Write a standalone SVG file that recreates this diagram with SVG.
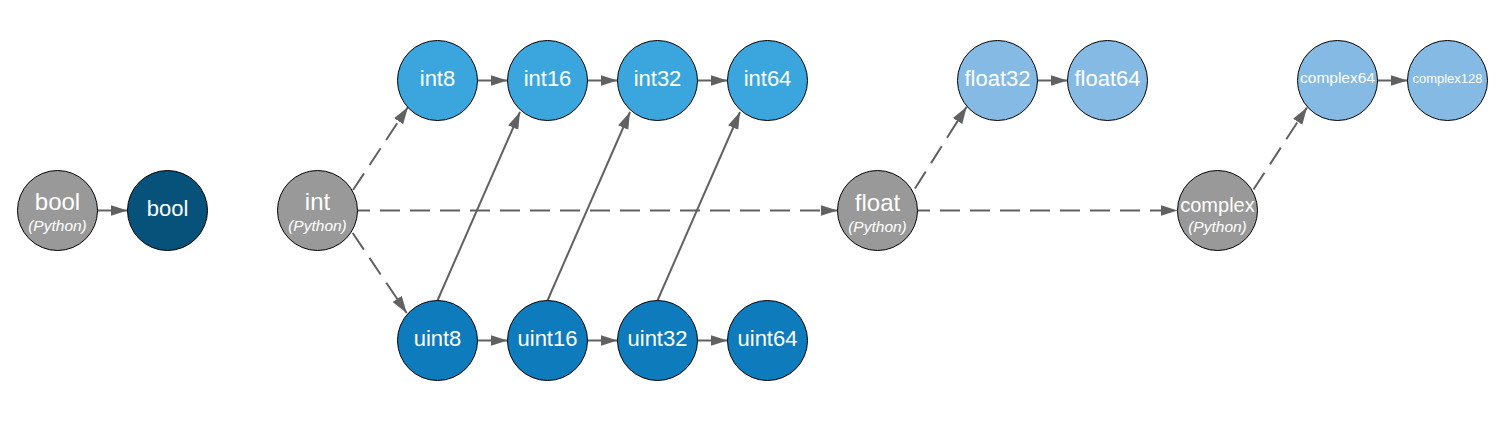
<svg xmlns="http://www.w3.org/2000/svg" width="1503" height="421" viewBox="0 0 1503 421">
<style>
.n{stroke:#000;stroke-width:1}
.py{fill:#999999}
.db{fill:#07527b}
.ib{fill:#3aa6dd}
.ub{fill:#0e7bbc}
.fb{fill:#84bae3}
text{font-family:"Liberation Sans",Arial,sans-serif;fill:#fff;text-anchor:middle}
.lbl{font-size:22px}
.big{font-size:24px}
.pyt{font-size:15.5px;font-style:italic}
.c{fill:none;stroke:#616161;stroke-width:2;marker-end:url(#ah)}
.d{stroke-dasharray:20 10}
</style>
<defs>
<marker id="ah" markerUnits="userSpaceOnUse" markerWidth="18" markerHeight="12" refX="17" refY="6" orient="auto">
<path d="M0,0.5 L17,6 L0,11.5 z" fill="#616161"/>
</marker>
</defs>
<g id="connectors">
<line class="c" x1="97.5" y1="210.5" x2="127.5" y2="210.5"/>
<line class="c" x1="477.5" y1="80.5" x2="507.5" y2="80.5"/>
<line class="c" x1="587.5" y1="80.5" x2="617.5" y2="80.5"/>
<line class="c" x1="697.5" y1="80.5" x2="727.5" y2="80.5"/>
<line class="c" x1="477.5" y1="340.5" x2="507.5" y2="340.5"/>
<line class="c" x1="587.5" y1="340.5" x2="617.5" y2="340.5"/>
<line class="c" x1="697.5" y1="340.5" x2="727.5" y2="340.5"/>
<line class="c" x1="1037.5" y1="80.5" x2="1067.5" y2="80.5"/>
<line class="c" x1="1377.5" y1="80.5" x2="1407.5" y2="80.5"/>
<line class="c" x1="437.5" y1="300.5" x2="520" y2="112"/>
<line class="c" x1="547.5" y1="300.5" x2="630" y2="112"/>
<line class="c" x1="657.5" y1="300.5" x2="740" y2="112"/>
<line class="c d" x1="353" y1="190" x2="408" y2="107"/>
<line class="c d" x1="352.7" y1="233" x2="406.7" y2="313"/>
<line class="c d" x1="358" y1="210.5" x2="837.5" y2="210.5" stroke-dashoffset="8"/>
<line class="c d" x1="918" y1="210.5" x2="1177.5" y2="210.5" stroke-dashoffset="8"/>
<line class="c d" x1="915" y1="188.5" x2="966.7" y2="106.7"/>
<line class="c d" x1="1253.5" y1="189.5" x2="1307" y2="107.5"/>
</g>
<g id="bool-py"><circle class="n py" cx="57.5" cy="210.5" r="40"/><text class="big" x="57.5" y="210">bool</text><text class="pyt" x="57.5" y="231">(Python)</text></g>
<g id="bool"><circle class="n db" cx="167.5" cy="210.5" r="40"/><text x="167.5" y="215.5" font-size="22">bool</text></g>
<g id="int-py"><circle class="n py" cx="317.5" cy="210.5" r="40"/><text class="big" x="317.5" y="209.5">int</text><text class="pyt" x="317.5" y="231">(Python)</text></g>
<g id="int8"><circle class="n ib" cx="437.5" cy="80.5" r="40"/><text class="lbl" x="437.5" y="85.5">int8</text></g>
<g id="int16"><circle class="n ib" cx="547.5" cy="80.5" r="40"/><text class="lbl" x="547.5" y="85.5">int16</text></g>
<g id="int32"><circle class="n ib" cx="657.5" cy="80.5" r="40"/><text class="lbl" x="657.5" y="85.5">int32</text></g>
<g id="int64"><circle class="n ib" cx="767.5" cy="80.5" r="40"/><text class="lbl" x="767.5" y="85.5">int64</text></g>
<g id="uint8"><circle class="n ub" cx="437.5" cy="340.5" r="40"/><text class="lbl" x="437.5" y="346">uint8</text></g>
<g id="uint16"><circle class="n ub" cx="547.5" cy="340.5" r="40"/><text class="lbl" x="547.5" y="346">uint16</text></g>
<g id="uint32"><circle class="n ub" cx="657.5" cy="340.5" r="40"/><text class="lbl" x="657.5" y="346">uint32</text></g>
<g id="uint64"><circle class="n ub" cx="767.5" cy="340.5" r="40"/><text class="lbl" x="767.5" y="346">uint64</text></g>
<g id="float-py"><circle class="n py" cx="877.5" cy="210.5" r="40"/><text class="big" x="877.5" y="210.5">float</text><text class="pyt" x="877.5" y="232">(Python)</text></g>
<g id="float32"><circle class="n fb" cx="997.5" cy="80.5" r="40"/><text class="lbl" x="997.5" y="85.5">float32</text></g>
<g id="float64"><circle class="n fb" cx="1107.5" cy="80.5" r="40"/><text class="lbl" x="1107.5" y="85.5">float64</text></g>
<g id="complex-py"><circle class="n py" cx="1217.5" cy="210.5" r="40"/><text x="1217.5" y="211.5" font-size="20">complex</text><text class="pyt" x="1217.5" y="231.5">(Python)</text></g>
<g id="complex64"><circle class="n fb" cx="1337.5" cy="80.5" r="40"/><text x="1337.5" y="83" font-size="15.5">complex64</text></g>
<g id="complex128"><circle class="n fb" cx="1447.5" cy="80.5" r="40"/><text x="1447.5" y="82.5" font-size="13">complex128</text></g>
</svg>
